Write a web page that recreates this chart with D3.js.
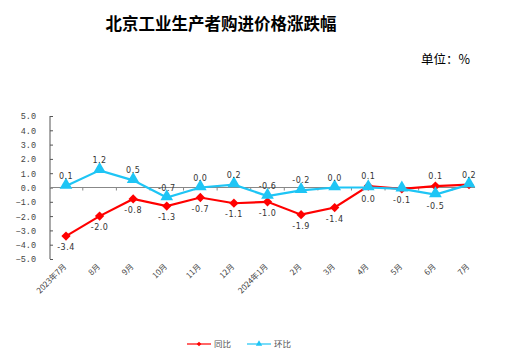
<!DOCTYPE html>
<html><head><meta charset="utf-8">
<script src="https://cdn.jsdelivr.net/npm/d3@7"></script>
<style>body{margin:0;background:#fff}svg{display:block}</style>
</head><body>
<script>
const categories = ["2023年7月","8月","9月","10月","11月","12月","2024年1月","2月","3月","4月","5月","6月","7月"];
const yoy = [-3.4,-2.0,-0.8,-1.3,-0.7,-1.1,-1.0,-1.9,-1.4,0.1,-0.1,0.1,0.2];   // 同比
const mom = [0.1,1.2,0.5,-0.7,0.0,0.2,-0.6,-0.2,0.0,0.0,-0.1,-0.5,0.2];       // 环比
const yTicks = [5,4,3,2,1,0,-1,-2,-3,-4,-5];
const seriesNames = ["同比","环比"];
// label side: 1 = above, -1 = below, 0 = hidden
const yoyLabelSide = [-1,-1,-1,-1,-1,-1,-1,-1,-1,1,0,1,1];
const momLabelSide = [1,1,1,1,1,1,1,1,1,-1,-1,-1,0];

const W=519,H=356;
const svg=d3.select("body").append("svg").attr("width",W).attr("height",H);
const red="#ff0000", blue="#1ec5f5";
const fontCJK="'Noto Sans CJK SC','Noto Sans',sans-serif";

svg.append("text").attr("x",221).attr("y",30).attr("text-anchor","middle")
  .attr("font-family",fontCJK).attr("font-weight","bold").attr("font-size",16.5)
  .attr("fill","#000").text("北京工业生产者购进价格涨跌幅");
svg.append("text").attr("x",470).attr("y",64).attr("text-anchor","end")
  .attr("font-family",fontCJK).attr("font-size",12.5).attr("fill","#000").text("单位：%");

const x=d3.scalePoint().domain(categories).range([66,469]);
const y=d3.scaleLinear().domain([-5,5]).range([259,116]);
const step=x.step();

// y axis
const ya=svg.append("g").attr("transform","translate(50,0)")
  .call(d3.axisRight(y).tickValues(yTicks).tickSize(3).tickFormat(d=>d3.format(".1f")(d)));
ya.select(".domain").attr("stroke","#555").attr("d","M0,116V259");
ya.selectAll(".tick line").attr("stroke","#555");
ya.selectAll(".tick text").attr("x",-14).attr("text-anchor","end")
  .attr("font-family","'Liberation Mono','DejaVu Sans Mono',monospace").attr("font-size",8.5)
  .attr("fill","#444").attr("dy","0.35em");

// zero line with ticks
const zy=y(0);
svg.append("line").attr("x1",50).attr("x2",475).attr("y1",zy).attr("y2",zy).attr("stroke","#888").attr("stroke-width",1);
categories.slice(1).forEach(c=>{
  const tx=x(c)-step/2;
  svg.append("line").attr("x1",tx).attr("x2",tx).attr("y1",zy).attr("y2",zy+3).attr("stroke","#888");
});

// x labels
svg.append("g").selectAll("text").data(categories).join("text")
  .attr("transform",d=>`translate(${x(d)+1},267) rotate(-45)`)
  .attr("text-anchor","end").attr("font-family",fontCJK).attr("font-size",8)
  .attr("fill","#444").text(d=>d);

const line=d3.line().x((d,i)=>x(categories[i])).y(d=>y(d));
svg.append("path").datum(yoy).attr("d",line).attr("fill","none").attr("stroke",red).attr("stroke-width",2.2);
svg.append("path").datum(mom).attr("d",line).attr("fill","none").attr("stroke",blue).attr("stroke-width",2.2);

const diamond=d3.symbol().type(d3.symbolDiamond2).size(55);
const tri=d3.symbol().type(d3.symbolTriangle).size(70);
svg.append("g").selectAll("path").data(yoy).join("path")
  .attr("transform",(d,i)=>`translate(${x(categories[i])},${y(d)})`).attr("d",diamond).attr("fill",red);
svg.append("g").selectAll("path").data(mom).join("path")
  .attr("transform",(d,i)=>`translate(${x(categories[i])},${y(d)-1})`).attr("d",tri).attr("fill",blue);

function labels(data,sides){
  const items=data.map((v,i)=>({v,i,s:sides[i]})).filter(o=>o.s!==0);
  svg.append("g").selectAll("text").data(items).join("text")
    .attr("x",o=>x(categories[o.i]))
    .attr("y",o=>y(o.v)+(o.s>0?-7:14))
    .attr("text-anchor","middle").attr("font-family","'DejaVu Sans',sans-serif").attr("font-size",8)
    .attr("letter-spacing",0.5).attr("fill","#333").text(o=>d3.format(".1f")(o.v).replace("−","-"));
}
labels(yoy,yoyLabelSide);
labels(mom,momLabelSide);

// legend
const lg=svg.append("g");
[[red,diamond,187,seriesNames[0]],[blue,tri,247,seriesNames[1]]].forEach(([c,sym,lx,name])=>{
  lg.append("line").attr("x1",lx).attr("x2",lx+24).attr("y1",344).attr("y2",344).attr("stroke",c).attr("stroke-width",1.2);
  lg.append("path").attr("transform",`translate(${lx+12},344) scale(0.5)`).attr("d",sym).attr("fill",c);
  lg.append("text").attr("x",lx+27).attr("y",347).attr("font-family",fontCJK).attr("font-size",8.5).attr("fill","#555").text(name);
});
</script>
</body></html>
